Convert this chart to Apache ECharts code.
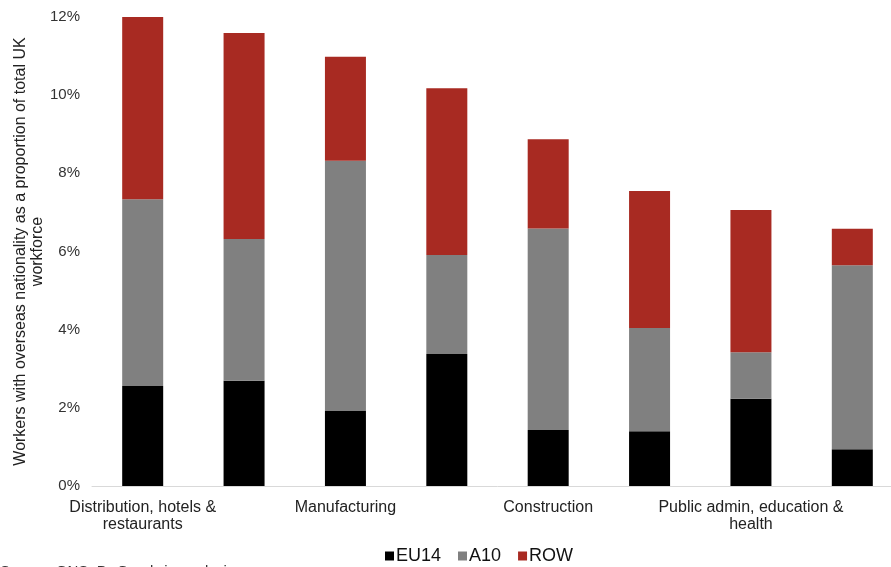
<!DOCTYPE html>
<html>
<head>
<meta charset="utf-8">
<script src="https://cdn.jsdelivr.net/npm/echarts@6/dist/echarts.min.js"></script>
<style>
    html, body { margin: 0; padding: 0; background: #fff; overflow: hidden; }
    /* plot runs a little past the right edge in the original */
    #main { width: 905px; height: 567px; }
</style>
</head>
<body>
<div id="main"></div>
<script>
// only every other sector is labelled in the original
let categories = [
    'Distribution, hotels &\nrestaurants',
    'Transport & communication',
    'Manufacturing',
    'Other services',
    'Construction',
    'Banking & finance',
    'Public admin, education &\nhealth',
    'Agriculture & fishing'
];
let eu14 = [2.56, 2.69, 1.92, 3.38, 1.43, 1.40, 2.23, 0.94];
let a10 = [4.78, 3.63, 6.40, 2.53, 5.16, 2.64, 1.19, 4.71];
let row = [4.66, 5.27, 2.66, 4.27, 2.28, 3.51, 3.64, 0.93];
let yTicks = [0, 2, 4, 6, 8, 10, 12];

let colors = {
    eu14: '#000000',
    a10: '#808080',
    row: '#a82a22'
};

function makeSeries(name, data, color) {
    return {
        name: name,
        type: 'bar',
        stack: 'total',
        barWidth: 41,
        data: data,
        itemStyle: { color: color }
    };
}

const option = {
    animation: false,
    textStyle: { fontFamily: 'Liberation Sans, Arial, sans-serif' },
    grid: {
        left: 92,
        width: 811,
        top: 17,
        bottom: 81
    },
    legend: {
        bottom: -3,
        left: 380,
        itemWidth: 9,
        itemHeight: 9,
        itemGap: 17,
        icon: 'rect',
        textStyle: { fontSize: 18, color: '#111', padding: [0, 0, 0, -3] },
        data: ['EU14', 'A10', 'ROW']
    },
    xAxis: {
        type: 'category',
        data: categories,
        axisLine: { lineStyle: { color: '#d9d9d9', width: 1 } },
        axisTick: { show: false },
        axisLabel: {
            interval: 1,
            fontSize: 16,
            color: '#222',
            lineHeight: 17,
            margin: 13
        }
    },
    yAxis: {
        type: 'value',
        min: yTicks[0],
        max: yTicks[yTicks.length - 1],
        interval: 2,
        name: 'Workers with overseas nationality as a proportion of total UK\nworkforce',
        nameLocation: 'middle',
        nameGap: 46,
        nameMoveOverlap: false,
        nameTextStyle: { fontSize: 16, color: '#222', lineHeight: 17 },
        axisLine: { show: false },
        axisTick: { show: false },
        splitLine: { show: false },
        axisLabel: {
            fontSize: 15,
            color: '#333',
            margin: 12,
            formatter: v => v + '%'
        }
    },
    graphic: [{
        type: 'text',
        left: 0,
        top: 564,
        style: {
            text: 'Source: ONS, Dr Goodwin analysis',
            fontSize: 15,
            fill: '#333',
            fontFamily: 'Liberation Sans, Arial, sans-serif'
        }
    }],
    series: [
        makeSeries('EU14', eu14, colors.eu14),
        makeSeries('A10', a10, colors.a10),
        makeSeries('ROW', row, colors.row)
    ]
};

let plot = echarts.init(document.querySelector('#main'));
plot.setOption(option);
</script>
</body>
</html>
